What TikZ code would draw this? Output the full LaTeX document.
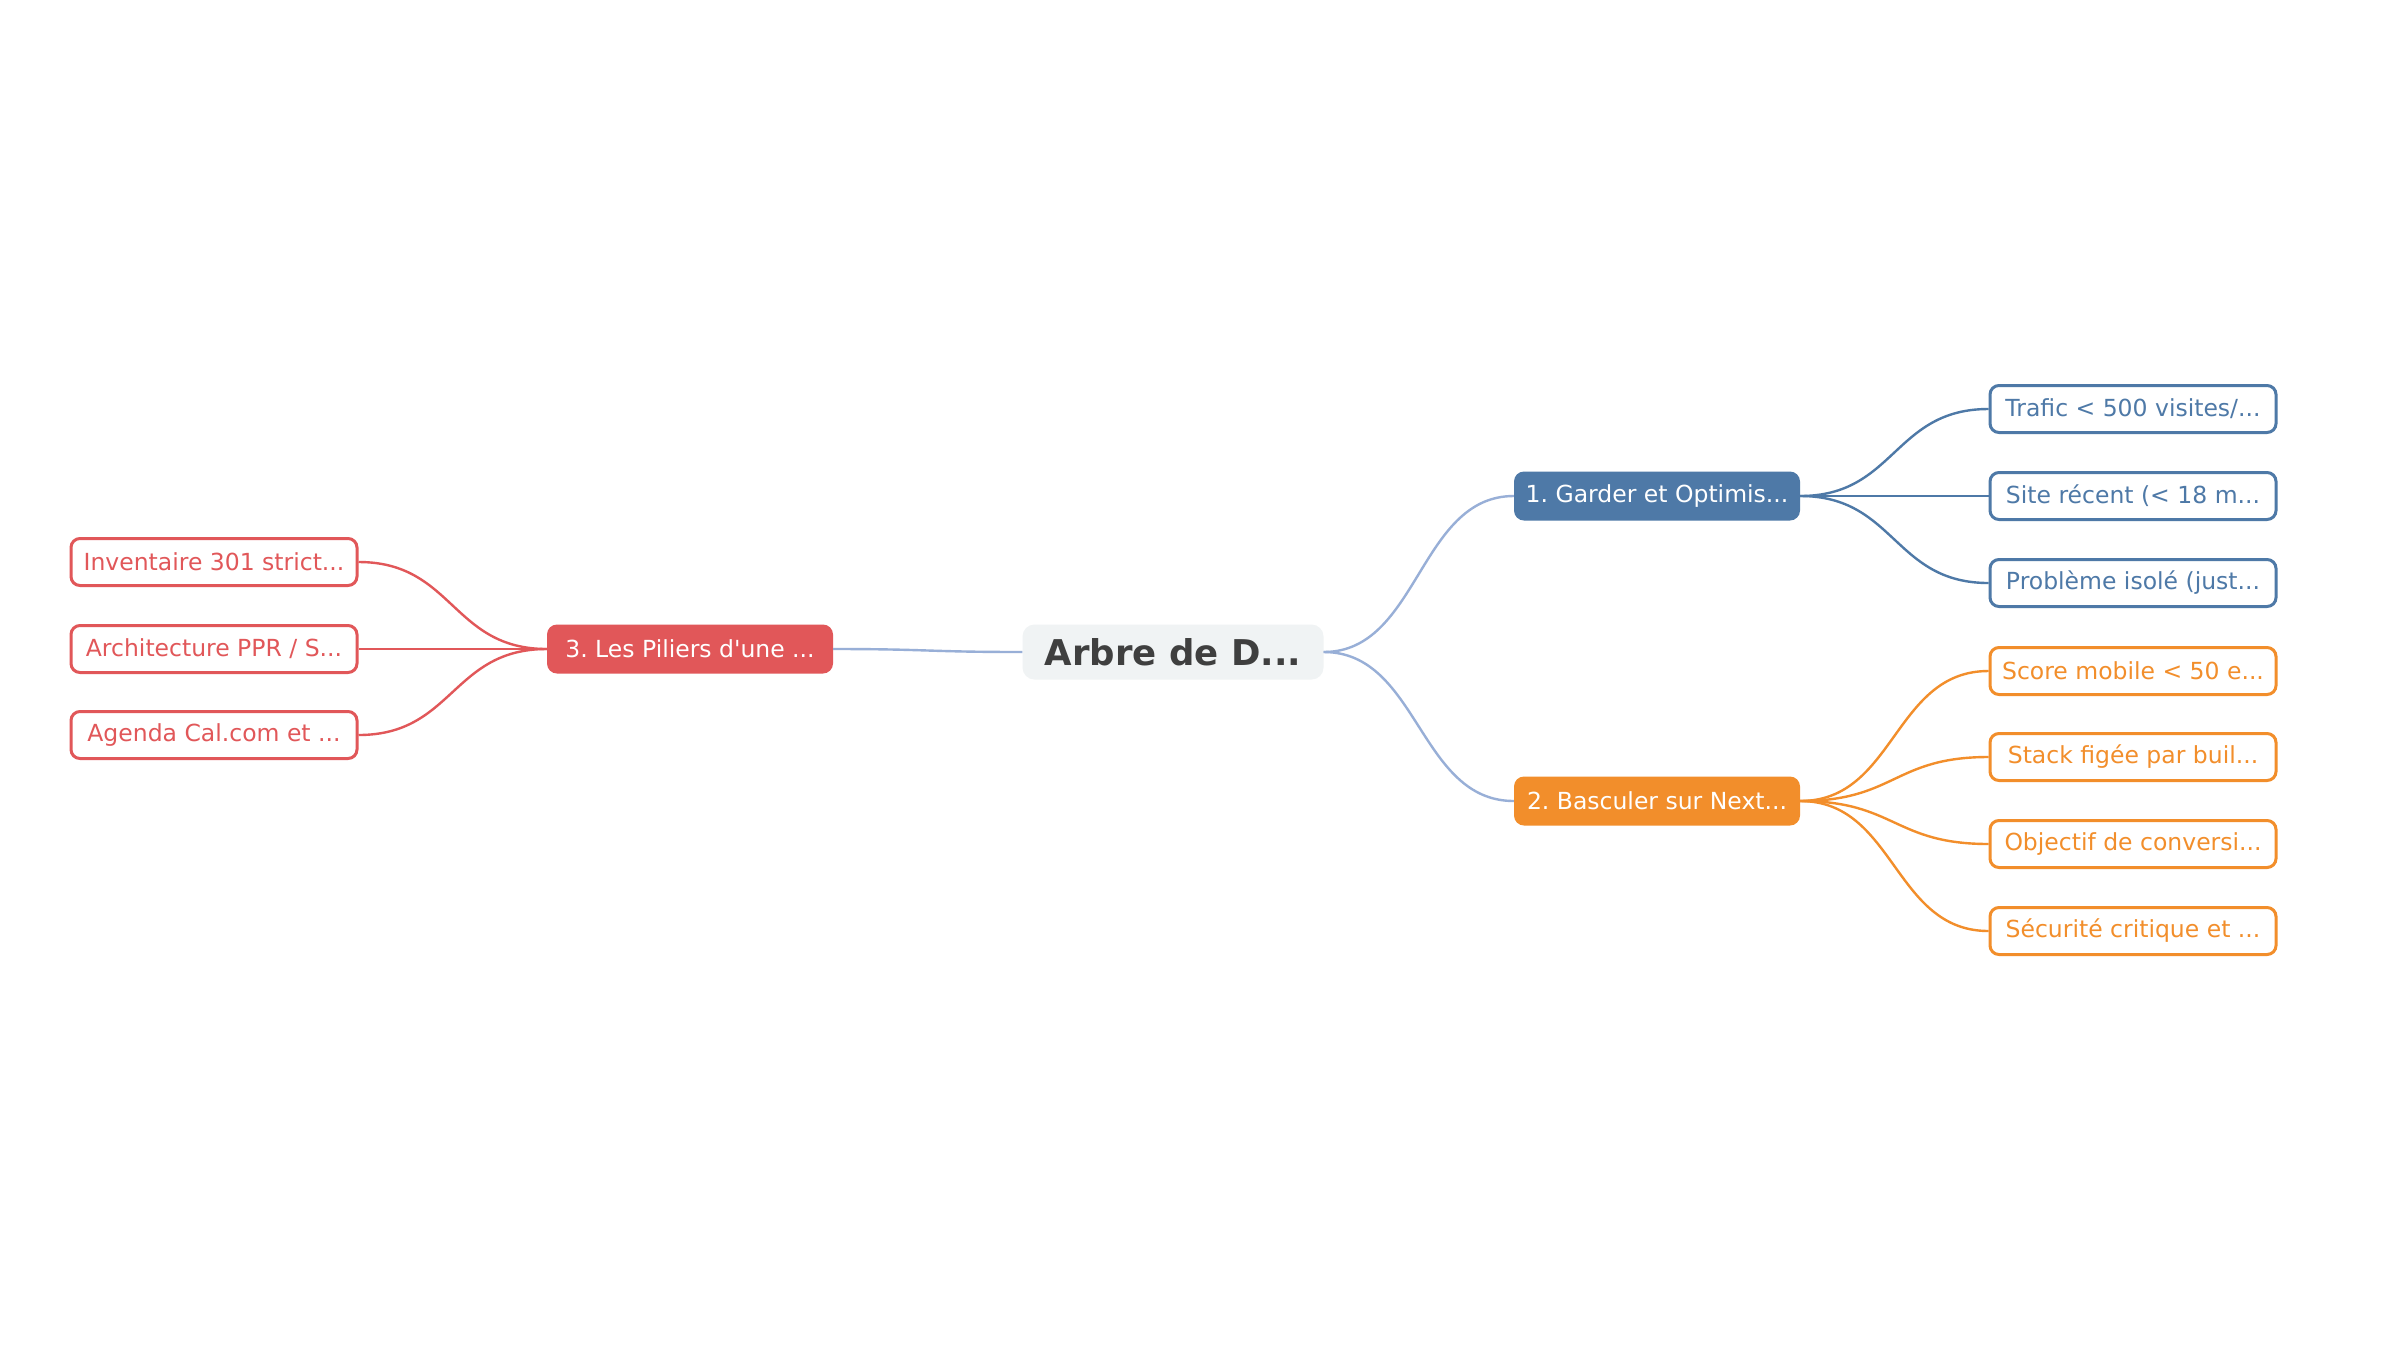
\documentclass[tikz,border=0pt]{standalone}
\usepackage{fontspec}
\setmainfont{DejaVu Sans}[Ligatures=TeXOff]
\frenchspacing
\definecolor{rootedge}{HTML}{98AFD7}
\definecolor{rootfill}{HTML}{F0F3F4}
\definecolor{roottext}{HTML}{3F3F3F}
\definecolor{garderblue}{HTML}{4E79A7}
\definecolor{basculerorange}{HTML}{F28E2B}
\definecolor{piliersred}{HTML}{E15759}
\tikzset{
	rootbox/.style={fill=rootfill, text=roottext, rounded corners=12pt, minimum width=301pt, minimum height=55pt, font=\fontsize{35.5}{40}\selectfont\bfseries},
	branchbox/.style={text=white, rounded corners=10pt, minimum width=286pt, minimum height=49pt, font=\fontsize{23.5}{28}\selectfont},
	leafbox/.style={fill=white, line width=3pt, rounded corners=9pt, minimum width=286pt, minimum height=47pt, font=\fontsize{23.5}{28}\selectfont},
	link/.style={line width=2.4pt}
}

\begin{document}
\begin{tikzpicture}[x=1pt,y=-1pt]
		\useasboundingbox[fill=white] (0,0) rectangle (2400,1350);
		\node[rootbox] (root) at (1173,652) {Arbre de D...};
		\node[branchbox, fill=garderblue] (garder) at (1657,496) {1. Garder et Optimis...};
		\node[branchbox, fill=basculerorange] (basculer) at (1657,801) {2. Basculer sur Next...};
		\node[branchbox, fill=piliersred] (piliers) at (690,649) {3. Les Piliers d'une ...};
		\draw[link, rootedge] (root.east) .. controls +(95,0) and +(-95,0) .. (garder.west);
		\draw[link, rootedge] (root.east) .. controls +(95,0) and +(-95,0) .. (basculer.west);
		\draw[link, rootedge] (root.west) .. controls +(-95,0) and +(95,0) .. (piliers.east);
		\def\garderLeaves{1/409/{Trafic < 500 visites/...}, 2/496/{Site récent (< 18 m...}, 3/583/{Problème isolé (just...}}
		\def\basculerLeaves{1/671/{Score mobile < 50 e...}, 2/757/{Stack figée par buil...}, 3/844/{Objectif de conversi...}, 4/931/{Sécurité critique et ...}}
		\def\piliersLeaves{1/562/{Inventaire 301 strict...}, 2/649/{Architecture PPR / S...}, 3/735/{Agenda Cal.com et ...}}
		\foreach \n/\y/\txt in \garderLeaves {
			\node[leafbox, draw=garderblue, text=garderblue] (g\n) at (2133,\y) {\txt};
			\draw[link, garderblue] (garder.east) .. controls +(95,0) and +(-95,0) .. (g\n.west);
		}
		\foreach \n/\y/\txt in \basculerLeaves {
			\node[leafbox, draw=basculerorange, text=basculerorange] (b\n) at (2133,\y) {\txt};
			\draw[link, basculerorange] (basculer.east) .. controls +(95,0) and +(-95,0) .. (b\n.west);
		}
		\foreach \n/\y/\txt in \piliersLeaves {
			\node[leafbox, draw=piliersred, text=piliersred] (p\n) at (214,\y) {\txt};
			\draw[link, piliersred] (piliers.west) .. controls +(-95,0) and +(95,0) .. (p\n.east);
		}
	\end{tikzpicture}
\end{document}
